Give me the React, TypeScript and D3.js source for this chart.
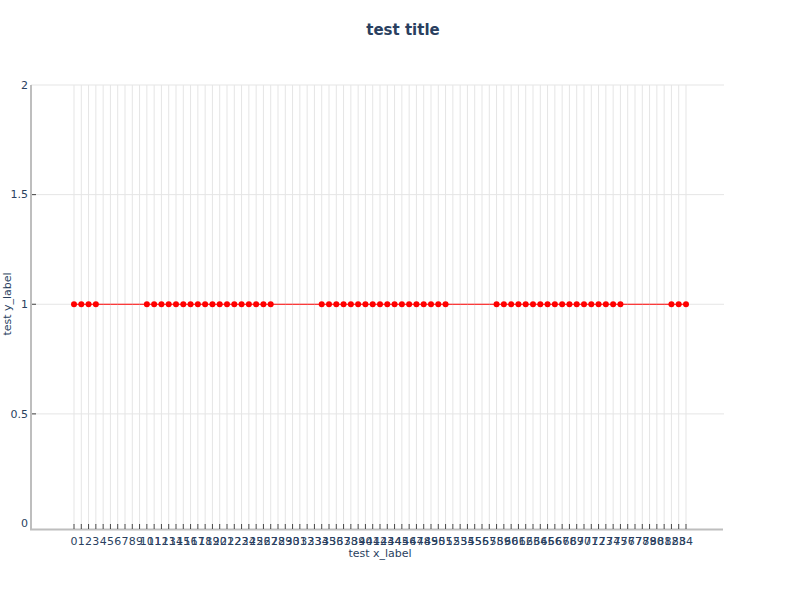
import React from "react";
import * as d3 from "d3";

const categories: string[] = [
  "0","1","2","3","4","5","6","7","8","9","10","11","12","13","14","15","16","17","18","19",
  "20","21","22","23","24","25","26","27","28","29","30","31","32","33","34","35","36","37","38","39",
  "40","41","42","43","44","45","46","47","48","49","50","51","52","53","54","55","56","57","58","59",
  "60","61","62","63","64","65","66","67","68","69","70","71","72","73","74","75","76","77","78","79",
  "80","81","82","83","84",
];
const lineValues: number[] = [
  1,1,1,1,1,1,1,1,1,1,1,1,1,1,1,1,1,1,1,1,
  1,1,1,1,1,1,1,1,1,1,1,1,1,1,1,1,1,1,1,1,
  1,1,1,1,1,1,1,1,1,1,1,1,1,1,1,1,1,1,1,1,
  1,1,1,1,1,1,1,1,1,1,1,1,1,1,1,1,1,1,1,1,
  1,1,1,1,1,
];
// 1 = marker drawn, 0 = no marker
const markerShown: number[] = [
  1,1,1,1,0,0,0,0,0,0,1,1,1,1,1,1,1,1,1,1,
  1,1,1,1,1,1,1,1,0,0,0,0,0,0,1,1,1,1,1,1,
  1,1,1,1,1,1,1,1,1,1,1,1,0,0,0,0,0,0,1,1,
  1,1,1,1,1,1,1,1,1,1,1,1,1,1,1,1,0,0,0,0,
  0,0,1,1,1,
];
const yTicks: number[] = [0, 0.5, 1, 1.5, 2];
const yTickLabels: string[] = ["0", "0.5", "1", "1.5", "2"];

const W = 792, H = 612;
const textColor = "#2a3f5f";
const font = "'DejaVu Sans', sans-serif";

export default function App() {
  const x = d3.scalePoint<string>().domain(categories).range([74, 686]);
  const y = d3.scaleLinear().domain([0, 2]).range([523.5, 85]);
  const line = d3
    .line<number>()
    .x((_, i) => x(categories[i]) as number)
    .y((d) => y(d));

  return (
    <svg width={W} height={H} style={{ position: "absolute", left: 0, top: 0, background: "#fff" }}>
      {/* vertical gridlines */}
      {categories.map((c) => (
        <line key={"vg" + c} x1={x(c)} x2={x(c)} y1={85} y2={525} stroke="#e5e5e5" strokeWidth={1} />
      ))}
      {/* horizontal gridlines */}
      {yTicks.filter((t) => t > 0).map((t) => (
        <line key={"hg" + t} x1={31} x2={724} y1={y(t)} y2={y(t)} stroke="#e5e5e5" strokeWidth={1} />
      ))}
      {/* axes */}
      <line x1={31} x2={31} y1={85} y2={530} stroke="#bebebe" strokeWidth={2} />
      <line x1={30} x2={723} y1={529.5} y2={529.5} stroke="#bebebe" strokeWidth={2} />
      {/* y ticks */}
      {yTicks.map((t, i) => (
        <g key={"yt" + t}>
          {t > 0 && t < 2 && <line x1={32} x2={36} y1={y(t)} y2={y(t)} stroke="#444" strokeWidth={1} />}
          <text x={28} y={y(t)} dy="0.35em" textAnchor="end" fontSize={11} fill={textColor} fontFamily={font}>
            {yTickLabels[i]}
          </text>
        </g>
      ))}
      {/* x ticks */}
      {categories.map((c) => (
        <g key={"xt" + c}>
          <line x1={x(c)} x2={x(c)} y1={524} y2={529} stroke="#444" strokeWidth={1} />
          <text x={x(c)} y={541} dy="0.35em" textAnchor="middle" fontSize={11} fill={textColor} fontFamily={font}>
            {c}
          </text>
        </g>
      ))}
      {/* line */}
      <path d={line(lineValues) || ""} fill="none" stroke="#ff0000" strokeWidth={1} />
      {/* markers */}
      {lineValues.map((v, i) =>
        markerShown[i] ? (
          <circle key={"m" + i} cx={x(categories[i]) as number} cy={y(v)} r={3} fill="#ff0000" />
        ) : null
      )}
      {/* title */}
      <text x={403} y={30} dy="0.35em" textAnchor="middle" fontSize={15} fontWeight="bold" fill={textColor} fontFamily={font}>
        test title
      </text>
      <text x={380} y={553} dy="0.35em" textAnchor="middle" fontSize={11} fill={textColor} fontFamily={font}>
        test x_label
      </text>
      <text
        transform={`translate(7,304) rotate(-90)`}
        dy="0.35em"
        textAnchor="middle"
        fontSize={11}
        fill={textColor}
        fontFamily={font}
      >
        test y_label
      </text>
    </svg>
  );
}
